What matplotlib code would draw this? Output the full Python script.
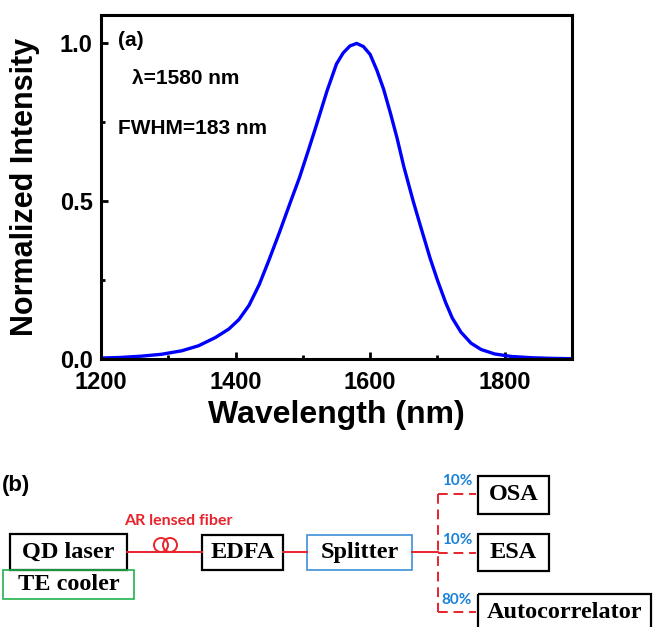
import matplotlib
matplotlib.use("Agg")
import matplotlib.pyplot as plt
from matplotlib.patches import Rectangle, Circle
from matplotlib.ticker import MultipleLocator

# spectrum
wavelength = [1200, 1230, 1260, 1290, 1320, 1345, 1370, 1390, 1405, 1420, 1435, 1449,
              1465, 1482, 1495, 1508, 1520, 1536, 1550, 1560, 1570, 1580, 1590, 1600,
              1610, 1620, 1630, 1640, 1650, 1664, 1675, 1689, 1700, 1712, 1722, 1735,
              1750, 1765, 1785, 1810, 1840, 1870, 1900]
intensity = [0.003, 0.005, 0.009, 0.015, 0.026, 0.042, 0.068, 0.095, 0.125, 0.170, 0.235, 0.310,
             0.400, 0.500, 0.575, 0.660, 0.740, 0.850, 0.935, 0.970, 0.992, 1.000, 0.990, 0.965,
             0.915, 0.855, 0.780, 0.700, 0.610, 0.500, 0.420, 0.320, 0.250, 0.180, 0.130, 0.085,
             0.050, 0.030, 0.016, 0.008, 0.004, 0.002, 0.001]

peak_text = "λ=1580 nm"
fwhm_text = "FWHM=183 nm"

W, H = 654, 627
fig = plt.figure(figsize=(W / 100, H / 100), dpi=100)
plt.rcParams['font.family'] = ['Liberation Sans', 'DejaVu Sans']

def fx(px):
    return px / W

def fy(py):
    return 1 - py / H

# ---- panel (a)
left, right, top, bottom = 101, 572, 15, 359
ax = fig.add_axes([fx(left), fy(bottom), fx(right - left), (bottom - top) / H])
ax.plot(wavelength, intensity, color='#0000ff', lw=2.4)
ax.set_xlim(1200, 1900)
ax.set_ylim(0, 1.09)
ax.xaxis.set_major_locator(MultipleLocator(200))
ax.xaxis.set_minor_locator(MultipleLocator(100))
ax.yaxis.set_major_locator(MultipleLocator(0.5))
ax.yaxis.set_minor_locator(MultipleLocator(0.25))
ax.tick_params(which='both', direction='in', width=2, top=False, right=False)
ax.tick_params(which='major', length=5, labelsize=17)
ax.tick_params(which='minor', length=3)
ax.tick_params(axis='x', which='major', pad=9)
ax.tick_params(axis='y', which='major', pad=6)
for lab in ax.get_xticklabels() + ax.get_yticklabels():
    lab.set_fontweight('bold')
for s in ax.spines.values():
    s.set_linewidth(2.2)
ax.set_xlabel('Wavelength (nm)', fontsize=23, fontweight='bold')
ax.set_ylabel('Normalized Intensity', fontsize=22, fontweight='bold')
ax.xaxis.set_label_coords(0.5, -0.12)
ax.yaxis.set_label_coords(-0.13, 0.5)

# ---- overlay in pixel coordinates for annotations and diagram (b)
ov = fig.add_axes([0, 0, 1, 1])
ov.set_xlim(0, W)
ov.set_ylim(H, 0)
ov.axis('off')
ov.patch.set_alpha(0)

ov.text(118, 41, '(a)', fontsize=15, fontweight='bold', va='center', ha='left')
ov.text(132, 79, peak_text, fontsize=15, fontweight='bold', va='center', ha='left')
ov.text(118, 128, fwhm_text, fontsize=15, fontweight='bold', va='center', ha='left')

red = '#e8232b'
blue = '#1a82d8'
serif = ['Liberation Serif', 'DejaVu Serif']

ov.text(2, 486, '(b)', fontsize=16, fontweight='bold', va='center', ha='left')

boxes = [
    # x0, y0, x1, y1, edge color, label
    (10, 534, 127, 570, 'black', 'QD laser'),
    (3, 570, 134, 599, '#22b14c', 'TE cooler'),
    (202, 535, 283, 570, 'black', 'EDFA'),
    (307, 535, 412, 570, '#3d8fd9', 'Splitter'),
    (478, 476, 549, 514, 'black', 'OSA'),
    (478, 534, 549, 571, 'black', 'ESA'),
    (478, 594, 651, 640, 'black', 'Autocorrelator'),
]
for x0, y0, x1, y1, ec, label in boxes:
    lw = 1.2 if ec != 'black' else 1.6
    ov.add_patch(Rectangle((x0, y0), x1 - x0, y1 - y0, fill=False, ec=ec, lw=lw, clip_on=False))
    cy = (y0 + y1) / 2 if label != 'Autocorrelator' else 613
    ov.text((x0 + x1) / 2, cy, label, family=serif, fontsize=17.5, fontweight='bold',
            ha='center', va='center')

# solid fiber links
line_y = 552
ov.plot([127, 202], [line_y, line_y], color=red, lw=1.4)
ov.plot([283, 307], [line_y, line_y], color=red, lw=1.4)
ov.plot([412, 438], [line_y, line_y], color=red, lw=1.4)
for cx in (161, 170):
    ov.add_patch(Circle((cx, 545), 7, fill=False, ec=red, lw=1.4))
ov.text(178, 521, 'AR lensed fiber', color=red, fontsize=11.5, fontweight='bold',
        ha='center', va='center', family=['Lato', 'DejaVu Sans'])

# dashed splitter outputs
dash = dict(color=red, lw=1.4, ls=(0, (5, 3)))
ov.plot([438, 438], [494, 612], **dash)
for yy in (494, 553, 612):
    ov.plot([438, 476], [yy, yy], **dash)
for yy, pct in ((481, '10%'), (540, '10%'), (600, '80%')):
    ov.text(457, yy, pct, color=blue, fontsize=11, fontweight='bold', ha='center',
            va='center', family=['Lato', 'DejaVu Sans'])

fig.savefig('out.png', dpi=100)
